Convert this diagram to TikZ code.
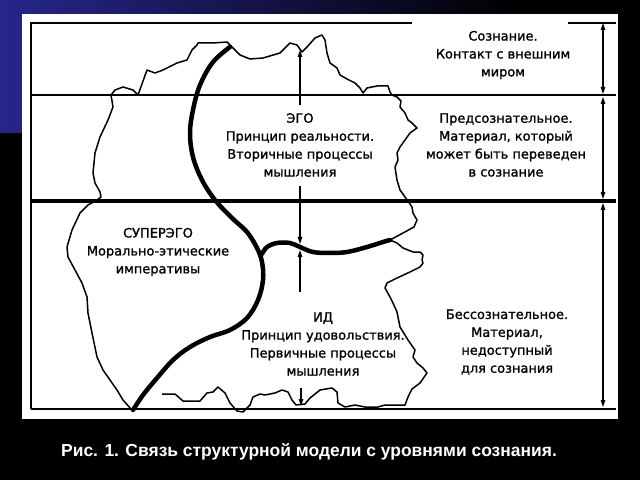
\documentclass[tikz,border=0pt]{standalone}
\usepackage{fontspec}
\setmainfont{DejaVu Sans}
\newfontfamily\lblfont[FakeBold=1.2]{DejaVu Sans}
\newfontfamily\capfont{Liberation Sans}
\usetikzlibrary{arrows.meta}
\definecolor{bgblue}{RGB}{38,38,140}
\begin{document}
\begin{tikzpicture}[x=1bp,y=-1bp,
  thinline/.style={line width=1.5bp},
  thickline/.style={line width=4bp},
  blob/.style={line width=1.5bp, line join=round},
  boldcurve/.style={line width=4.5bp, line cap=round},
  dimarrow/.style={line width=1.2bp, {Triangle[length=7bp,width=4.5bp]}-{Triangle[length=7bp,width=4.5bp]}},
  tiparrow/.style={line width=1.2bp, -{Triangle[length=7bp,width=4.5bp]}},
  lbl/.style={align=center, font=\lblfont\fontsize{13}{18}\selectfont, inner sep=0pt}
]
\useasboundingbox (0,0) rectangle (640,480);
% background
\fill[black] (0,0) rectangle (640,480);
\shade[left color=bgblue, right color=black] (0,0) rectangle (520,133);
\fill[white] (22,14) rectangle (618,419);

% frame lines
\draw[thinline] (31,409) -- (31,23) -- (412,23);
\draw[thinline] (568,23) -- (616,23);
\draw[thinline] (31,95) -- (616,95);
\draw[thickline] (31,201) -- (616,201);
\draw[thinline] (31,409) -- (616,409);

% blob outline
\draw[blob] (162,394) -- (175,394) -- (183,401) -- (200,401) -- (207,393) -- (213,392) -- (218,387) -- (225,393) -- (230,403) -- (237,411) -- (243,412) -- (250,405) -- (253,397) -- (260,394) -- (265,395) -- (275,393) -- (282,390) -- (288,392) -- (292,400) -- (296,405) -- (305,404) -- (310,398) -- (320,390) -- (332,388) -- (337,392) -- (338,403) -- (345,407) -- (355,405) -- (365,407) -- (378,407) -- (385,405) -- (405,405) -- (408,397) -- (412,389) -- (420,383) -- (427,373) -- (423,368) -- (417,363) -- (413,357) -- (415,350) -- (408,340) -- (400,327) -- (397,312) -- (393,303) -- (390,297) -- (385,288) -- (387,283) -- (397,278) -- (410,272) -- (420,267) -- (423,263) -- (422,260) -- (423,255) -- (420,252) -- (413,252) -- (403,248) -- (397,243) -- (390,240) -- (403,233) -- (414,227) -- (417,220) -- (413,213) -- (412,207) -- (408,201) -- (405,197) -- (400,190) -- (397,180) -- (395,167) -- (398,160) -- (397,153) -- (400,147) -- (405,140) -- (410,133) -- (417,128) -- (412,123) -- (408,120) -- (405,113) -- (400,107) -- (401,101) -- (397,97) -- (392,95) -- (390,92) -- (388,86) -- (377,86) -- (367,88) -- (363,93) -- (360,88) -- (355,83) -- (347,79) -- (340,75) -- (337,68) -- (330,63) -- (327,53) -- (325,40) -- (322,35) -- (315,38) -- (307,47) -- (302,52) -- (297,45) -- (290,43) -- (280,53) -- (263,58) -- (250,59) -- (240,55) -- (233,48) -- (227,42) -- (213,43) -- (198,43) -- (197,45) -- (192,50) -- (187,60) -- (177,63) -- (163,70) -- (155,73) -- (147,70) -- (138,95) -- (133,90) -- (123,87) -- (115,90) -- (111,95) -- (113,107) -- (108,120) -- (100,137) -- (95,153) -- (93,173) -- (95,183) -- (100,192) -- (101,197) -- (97,200) -- (88,205) -- (80,213) -- (72,230) -- (67,247) -- (68,257) -- (75,270) -- (82,283) -- (87,297) -- (88,313) -- (92,333) -- (97,357) -- (103,370) -- (110,380) -- (117,390) -- (123,400) -- (131,409);

% bold boundaries
\draw[boldcurve] plot[smooth, tension=0.6] coordinates {(230,47) (213,62) (200,85) (193,110) (190,133) (193,157) (202,180) (215,200) (232,218) (247,232) (257,248) (262,262) (263,280) (258,300) (247,318) (230,330) (210,337) (190,347) (173,360) (157,378) (143,395) (133,410)};
\draw[boldcurve] plot[smooth, tension=0.6] coordinates {(262,254) (267,247) (277,243) (290,243) (300,247) (313,252) (330,253) (347,252) (367,247) (383,242) (390,240)};

% right dimension arrows
\coordinate (r1t) at (603,23);
\coordinate (r1b) at (603,94);
\coordinate (r2t) at (603,97);
\coordinate (r2b) at (603,199);
\coordinate (r3t) at (603,203);
\coordinate (r3b) at (603,407);
\draw[dimarrow] (r1t) -- (r1b);
\draw[dimarrow] (r2t) -- (r2b);
\draw[dimarrow] (r3t) -- (r3b);

% centre arrows
\coordinate (e1) at (300,105);
\coordinate (e1t) at (300,50);
\coordinate (e2) at (300,186);
\coordinate (e2t) at (300,244);
\coordinate (i1) at (300,292);
\coordinate (i1t) at (300,250);
\coordinate (i2) at (301,388);
\coordinate (i2t) at (301,406);
\draw[tiparrow] (e1) -- (e1t);
\draw[tiparrow] (e2) -- (e2t);
\draw[tiparrow] (i1) -- (i1t);
\draw[tiparrow] (i2) -- (i2t);

% labels
\node[lbl] (soz) at (503,55) {Сознание.\\Контакт с внешним\\миром};
\node[lbl] (pred) at (506,145) {Предсознательное.\\Материал, который\\может быть переведен\\в сознание};
\node[lbl] (ego) at (300,145) {ЭГО\\Принцип реальности.\\Вторичные процессы\\мышления};
\node[lbl] (super) at (158,252) {СУПЕРЭГО\\Морально-этические\\императивы};
\node[lbl] (id) at (323,344) {ИД\\Принцип удовольствия.\\Первичные процессы\\мышления};
\node[lbl] (bess) at (507,342) {Бессознательное.\\Материал,\\недоступный\\для сознания};

% caption
\node[font=\capfont\bfseries\fontsize{17.5}{20}\selectfont, text=white, inner sep=0pt] (cap) at (309,452) {Рис. 1. Связь структурной модели с уровнями сознания.};
\end{tikzpicture}
\end{document}
